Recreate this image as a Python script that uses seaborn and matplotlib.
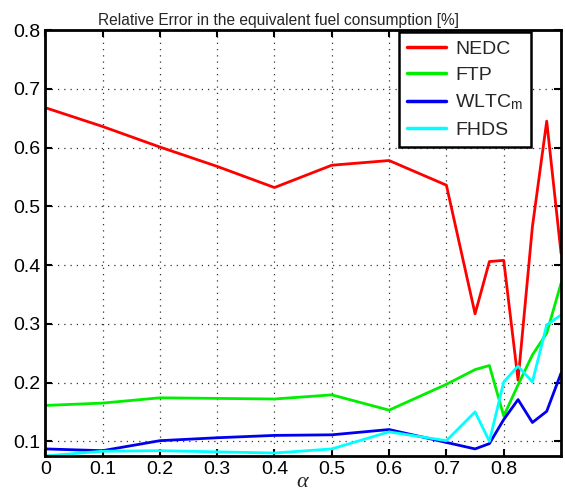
import numpy as np
import pandas as pd
import matplotlib
matplotlib.use('Agg')
import matplotlib.pyplot as plt
import seaborn as sns

# alpha values
alpha = [0, 0.1, 0.2, 0.3, 0.4, 0.5, 0.6, 0.7, 0.75, 0.775, 0.8, 0.825, 0.85, 0.875, 0.9]

nedc = [0.668, 0.636, 0.601, 0.568, 0.532, 0.570, 0.578, 0.536, 0.317, 0.406, 0.408, 0.204, 0.465, 0.645, 0.420]
ftp = [0.161, 0.165, 0.174, 0.173, 0.172, 0.179, 0.153, 0.197, 0.222, 0.229, 0.143, 0.196, 0.247, 0.284, 0.369]
wltc = [0.087, 0.084, 0.101, 0.106, 0.110, 0.111, 0.120, 0.098, 0.087, 0.096, 0.137, 0.171, 0.132, 0.151, 0.216]
fhds = [0.075, 0.083, 0.084, 0.082, 0.080, 0.087, 0.116, 0.101, 0.150, 0.100, 0.201, 0.228, 0.201, 0.298, 0.315]

labels = ['NEDC', 'FTP', 'WLTC$_\\mathrm{m}$', 'FHDS']
colors = ['#ff0000', '#00ee00', '#0000ee', '#00ffff']

df = pd.DataFrame({
    'alpha': alpha * 4,
    'err': nedc + ftp + wltc + fhds,
    'cycle': sum([[l] * len(alpha) for l in labels], []),
})

sns.set_style('ticks')
plt.rcParams['font.family'] = ['Liberation Sans', 'DejaVu Sans']
plt.rcParams['mathtext.fontset'] = 'custom'
plt.rcParams['mathtext.rm'] = 'Liberation Sans'
plt.rcParams['mathtext.it'] = 'Liberation Serif:italic'

fig = plt.figure(figsize=(5.65, 4.94), dpi=100)
ax = fig.add_axes([0.08, 0.077, 0.913, 0.862])

sns.lineplot(data=df, x='alpha', y='err', hue='cycle', hue_order=labels,
             palette=colors, linewidth=2, ax=ax, sort=False)

ax.set_xlim(0, 0.9)
ax.set_ylim(0.075, 0.8)
ax.set_xticks(np.arange(0, 0.81, 0.1))
ax.set_xticklabels(['0', '0.1', '0.2', '0.3', '0.4', '0.5', '0.6', '0.7', '0.8'])
ax.set_yticks(np.arange(0.1, 0.81, 0.1))
ax.set_yticklabels(['0.1', '0.2', '0.3', '0.4', '0.5', '0.6', '0.7', '0.8'])
ax.tick_params(direction='in', length=5, width=1.5, labelsize=14,
               top=True, right=True, colors='black')
ax.grid(True, linestyle=(0, (1, 4)), color='#333333', linewidth=0.9)
for s in ax.spines.values():
    s.set_visible(True)
    s.set_linewidth(2)
    s.set_color('black')

ax.set_xlabel('$\\alpha$', fontsize=16, labelpad=-5)
ax.set_ylabel('')
ax.set_title('Relative Error in the equivalent fuel consumption [%]',
             fontsize=11.2, pad=4, x=0.452)

leg = ax.legend(loc='upper right', bbox_to_anchor=(0.942, 0.995), fontsize=14,
                frameon=True, fancybox=False, handlelength=2.0, handletextpad=0.5,
                borderpad=0.4, labelspacing=0.45, borderaxespad=0)
leg.get_frame().set_edgecolor('black')
leg.get_frame().set_linewidth(1.8)
leg.get_frame().set_alpha(1)
for h in leg.get_lines():
    h.set_linewidth(2.5)

fig.savefig('out.png', dpi=100)
